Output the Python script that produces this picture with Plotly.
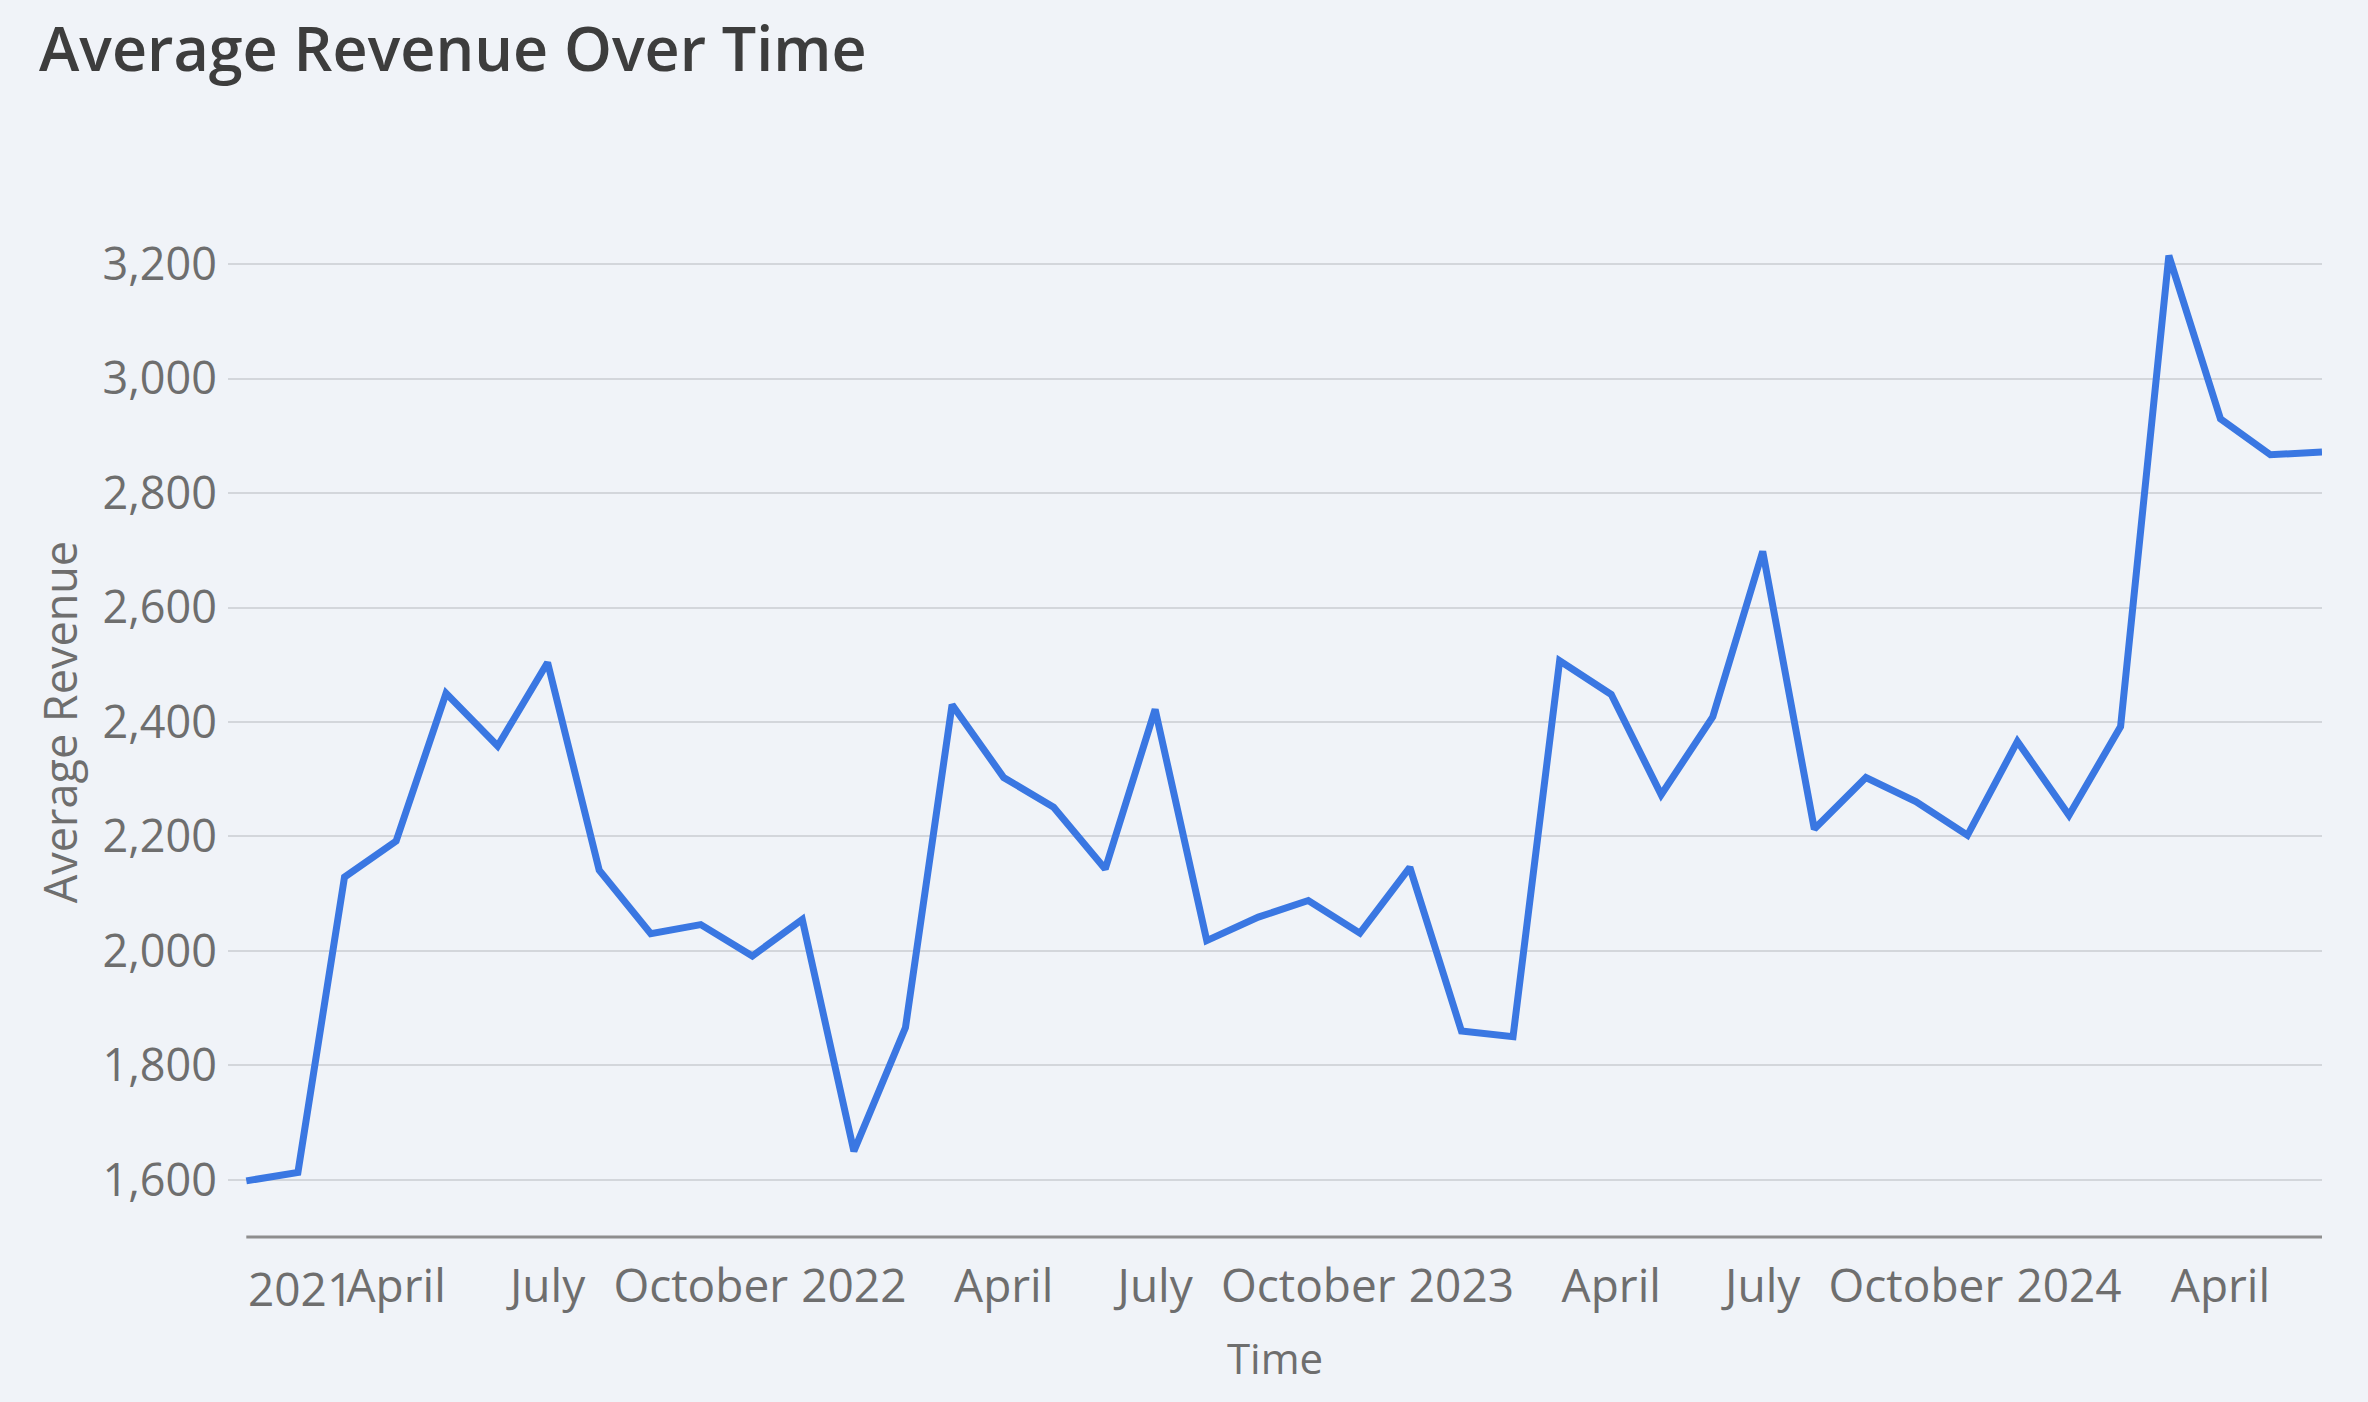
import plotly.graph_objects as go

# ---- data ----
months = [
    "2021-01-01", "2021-02-01", "2021-03-01", "2021-04-01", "2021-05-01", "2021-06-01",
    "2021-07-01", "2021-08-01", "2021-09-01", "2021-10-01", "2021-11-01", "2021-12-01",
    "2022-01-01", "2022-02-01", "2022-03-01", "2022-04-01", "2022-05-01", "2022-06-01",
    "2022-07-01", "2022-08-01", "2022-09-01", "2022-10-01", "2022-11-01", "2022-12-01",
    "2023-01-01", "2023-02-01", "2023-03-01", "2023-04-01", "2023-05-01", "2023-06-01",
    "2023-07-01", "2023-08-01", "2023-09-01", "2023-10-01", "2023-11-01", "2023-12-01",
    "2024-01-01", "2024-02-01", "2024-03-01", "2024-04-01", "2024-05-01", "2024-06-01",
]
avg_revenue = [
    1598, 1613, 2129, 2192, 2450, 2358,
    2504, 2141, 2030, 2046, 1991, 2055,
    1650, 1866, 2430, 2303, 2251, 2143,
    2422, 2018, 2059, 2088, 2031, 2146,
    1860, 1850, 2507, 2448, 2273, 2409,
    2698, 2213, 2303, 2261, 2202, 2366,
    2237, 2392, 3215, 2930, 2867, 2872,
]
x_tick_dates = [
    "2021-04-01", "2021-07-01", "2021-10-01", "2022-01-01",
    "2022-04-01", "2022-07-01", "2022-10-01", "2023-01-01",
    "2023-04-01", "2023-07-01", "2023-10-01", "2024-01-01",
    "2024-04-01",
]
x_tick_labels = [
    "April", "July", "October", "2022",
    "April", "July", "October", "2023",
    "April", "July", "October", "2024",
    "April",
]
first_label = "2021"
y_ticks = [1600, 1800, 2000, 2200, 2400, 2600, 2800, 3000, 3200]

# ---- style ----
BG = "#f0f3f8"
LINE = "#3a77e2"
GRID = "#d3d6db"
LABEL = "#6e6e6e"
FONT = "Open Sans"

fig = go.Figure()
fig.add_trace(go.Scatter(
    x=months, y=avg_revenue, mode="lines",
    line=dict(color=LINE, width=7),
    hoverinfo="skip",
))

fig.update_layout(
    width=2368, height=1402,
    paper_bgcolor=BG, plot_bgcolor=BG,
    margin=dict(l=228, r=46, t=207, b=165),
    showlegend=False,
    font=dict(family=FONT, color=LABEL),
    title=dict(
        text="Average Revenue Over Time",
        x=39 / 2368, xanchor="left", xref="container",
        y=1 - 50 / 1402, yanchor="middle", yref="container",
        font=dict(family=FONT, size=61, color="#3d3d3d", weight=600),
    ),
    xaxis=dict(
        type="date",
        range=["2020-12-21", months[-1]],
        showgrid=False, zeroline=False, showline=False,
        tickmode="array", tickvals=x_tick_dates, ticktext=x_tick_labels,
        ticks="", ticklabelstandoff=18,
        tickfont=dict(family=FONT, size=46, color=LABEL),
        title=dict(text="Time", font=dict(family=FONT, size=42, color=LABEL), standoff=30),
    ),
    yaxis=dict(
        range=[1500, 3300],
        tickmode="array", tickvals=y_ticks, tickformat=",",
        showgrid=True, gridcolor=GRID, gridwidth=2,
        zeroline=False, showline=False, ticks="",
        ticklabelstandoff=10,
        tickfont=dict(family=FONT, size=45, color=LABEL),
        title=dict(text="Average Revenue", font=dict(family=FONT, size=45, color=LABEL), standoff=10),
    ),
    shapes=[dict(
        type="line", xref="x", yref="paper",
        x0=months[0], x1=months[-1], y0=0, y1=0,
        line=dict(color="#8e8e8e", width=3),
    )],
    annotations=[dict(
        text=first_label, x=months[0], xref="x", xanchor="left",
        y=0, yref="paper", yanchor="top", yshift=-18, showarrow=False,
        font=dict(family=FONT, size=46, color=LABEL),
    )],
)

fig.write_html(
    "out.html",
    config={"displayModeBar": False},
    post_script="document.body.style.margin='0';document.body.style.overflow='hidden';",
)
